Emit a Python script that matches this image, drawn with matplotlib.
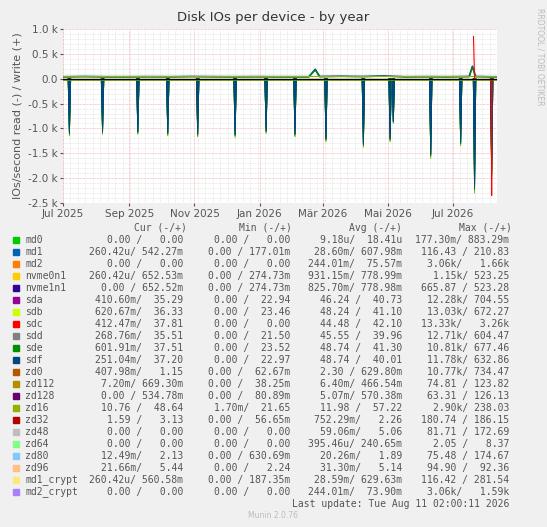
import matplotlib
matplotlib.use("Agg")
import matplotlib.pyplot as plt
import numpy as np

W, H = 547, 527
# x in days since 2025-07-01
month_ticks = [0, 62, 123, 184, 243, 304, 365]
month_labels = ["Jul 2025", "Sep 2025", "Nov 2025", "Jan 2026", "Mär 2026", "Mai 2026", "Jul 2026"]

# read spikes of sd* disks (days, value)
spike_days = [6, 37, 70, 98, 126, 161, 190, 217, 246, 281, 306, 309, 344, 372, 385, 401]
spike_vals = [-1150, -1120, -1120, -1150, -1170, -1180, -1100, -1170, -1270, -1380, -1270, -900, -1600, -1350, -2300, -2000]
sdc_spike_day = [401]
sdc_spike_val = [-2350]
write_days = [0, 1, 20, 40, 60, 80, 100, 120, 140, 160, 180, 200, 230, 236, 240, 260, 280, 300, 320, 340, 360, 380, 383, 386, 400, 406]
write_vals = [40, 40, 45, 40, 40, 42, 40, 45, 42, 40, 42, 40, 40, 190, 45, 50, 45, 55, 40, 42, 40, 45, 250, 45, 40, 40]
sdc_write_day = [384, 385]
sdc_write_val = [850, 0]

names = ["md0","md1","md2","nvme0n1","nvme1n1","sda","sdb","sdc","sdd","sde","sdf","zd0","zd112","zd128","zd16","zd32","zd48","zd64","zd80","zd96","md1_crypt","md2_crypt"]
colors = ["#00cc00","#0066b3","#ff8000","#ffcc00","#330099","#990099","#ccff00","#ff0000","#808080","#008f00","#00487d","#b35a00","#b38f00","#6b006b","#8fb300","#b30000","#bebebe","#80ff80","#80c9ff","#ffc080","#ffe680","#aa80ff"]
cur = ["0.00 /   0.00","260.42u/ 542.27m","0.00 /   0.00","260.42u/ 652.53m","0.00 / 652.52m","410.60m/  35.29","620.67m/  36.33","412.47m/  37.81","268.76m/  35.51","601.91m/  37.51","251.04m/  37.20","407.98m/   1.15","7.20m/ 669.30m","0.00 / 534.78m","10.76 /  48.64","1.59 /   3.13","0.00 /   0.00","0.00 /   0.00","12.49m/   2.13","21.66m/   5.44","260.42u/ 560.58m","0.00 /   0.00"]
mn = ["0.00 /   0.00","0.00 / 177.01m","0.00 /   0.00","0.00 / 274.73m","0.00 / 274.73m","0.00 /  22.94","0.00 /  23.46","0.00 /   0.00","0.00 /  21.50","0.00 /  23.52","0.00 /  22.97","0.00 /  62.67m","0.00 /  38.25m","0.00 /  80.89m","1.70m/  21.65","0.00 /  56.65m","0.00 /   0.00","0.00 /   0.00","0.00 / 630.69m","0.00 /   2.24","0.00 / 187.35m","0.00 /   0.00"]
avg = ["9.18u/  18.41u","28.60m/ 607.98m","244.01m/  75.57m","931.15m/ 778.99m","825.70m/ 778.98m","46.24 /  40.73","48.24 /  41.10","44.48 /  42.10","45.55 /  39.96","48.74 /  41.30","48.74 /  40.01","2.30 / 629.80m","6.40m/ 466.54m","5.07m/ 570.38m","11.98 /  57.22","752.29m/   2.26","59.06m/   5.06","395.46u/ 240.65m","20.26m/   1.89","31.30m/   5.14","28.59m/ 629.63m","244.01m/  73.90m"]
mx = ["177.30m/ 883.29m","116.43 / 210.83","3.06k/   1.66k","1.15k/ 523.25","665.87 / 523.28","12.28k/ 704.55","13.03k/ 672.27","13.33k/   3.26k","12.71k/ 604.47","10.81k/ 677.46","11.78k/ 632.86","10.77k/ 734.47","74.81 / 123.82","63.31 / 126.13","2.90k/ 238.03","180.74 / 186.15","81.71 / 172.69","2.05 /   8.37","75.48 / 174.67","94.90 /  92.36","116.42 / 281.54","3.06k/   1.59k"]

fig = plt.figure(figsize=(W/100, H/100), dpi=100, facecolor="#f0f0f0")
ax = fig.add_axes([63/W, 1-203/H, 434/W, 174/H])
ax.set_facecolor("white")
ax.set_xlim(0, 406)
ax.set_ylim(-2500, 1000)

# grids
for y in np.arange(-2500, 1001, 100):
    ax.axhline(y, color="#dddddd" if y % 500 else "#f2a0a0", lw=0.5, ls=(0, (1, 1)), zorder=0)
for x in np.arange(0, 406, 7):
    ax.axvline(x, color="#dddddd", lw=0.5, ls=(0, (1, 1)), zorder=0)
for x in month_ticks:
    ax.axvline(x, color="#f2a0a0", lw=0.5, ls=(0, (1, 1)), zorder=0)

# data
def spike(d, v, w=1.2):
    return [d - w, d, d + w], [0, v, 0]

for i, (d, v) in enumerate(zip(spike_days, spike_vals)):
    for c, f in [("#8fb300", 1.0), ("#008f00", 0.97), ("#00487d", 0.95)]:
        xs, ys = spike(d, v * f)
        ax.fill(xs, ys, color=c, lw=0.6, zorder=2)
        ax.plot(xs, ys, color=c, lw=0.6, zorder=2)
for d, v in zip(sdc_spike_day, sdc_spike_val):
    ax.plot([d - 0.3, d, d + 0.3], [0, v, 0], color="#ff0000", lw=0.8, zorder=3)
ax.plot(write_days, write_vals, color="#00487d", lw=1.2, zorder=2)
ax.plot(write_days, [v * 0.9 for v in write_vals], color="#008f00", lw=0.8, zorder=2)
ax.plot([0, 406], [-20, -20], color="#8fb300", lw=1.2, zorder=2)
ax.plot([0, 406], [60, 60], color="#8fb300", lw=0.8, zorder=2)
ax.plot(sdc_write_day, sdc_write_val, color="#ff0000", lw=0.8, zorder=3)
ax.axhline(0, color="black", lw=1, zorder=4)

ax.set_xticks(month_ticks)
ax.set_xticklabels(month_labels)
ax.set_yticks([1000, 500, 0, -500, -1000, -1500, -2000, -2500])
ax.set_yticklabels(["1.0 k", "0.5 k", "0.0", "-0.5 k", "-1.0 k", "-1.5 k", "-2.0 k", "-2.5 k"])
ax.tick_params(labelsize=7.5, colors="#555555", length=2, pad=2)
for s in ax.spines.values():
    s.set_visible(False)
ax.set_ylabel("IOs/second read (-) / write (+)", fontsize=8, color="#555555")
fig.text(0.5, 1 - 17/H, "Disk IOs per device - by year", ha="center", va="center", fontsize=9.5, color="#333333")
fig.text(540/W, 1 - 8/H, "RRDTOOL / TOBI OETIKER", rotation=270, ha="center", va="top", fontsize=5.5, color="#bbbbbb")

mono = dict(family="DejaVu Sans Mono", fontsize=7, color="#555555", va="center")
hy = 1 - 228/H
for x, t in [(160, "Cur (-/+)"), (265, "Min (-/+)"), (375, "Avg (-/+)"), (485, "Max (-/+)")]:
    fig.text(x/W, hy, t, ha="center", **mono)
for i, n in enumerate(names):
    y = 240 + i * 12.0
    fy = 1 - y/H
    fig.patches.append(plt.Rectangle((13/W, 1 - (y + 3)/H), 6/W, 6/H, transform=fig.transFigure, color=colors[i]))
    fig.text(25/W, fy, n, ha="left", **mono)
    for x, arr in [(183, cur), (290, mn), (402, avg), (509, mx)]:
        fig.text(x/W, fy, arr[i], ha="right", **mono)
fig.text(509/W, 1 - 504/H, "Last update: Tue Aug 11 02:00:11 2026", ha="right", **mono)
fig.text(273/W, 1 - 516/H, "Munin 2.0.76", ha="center", va="center", fontsize=5.5, color="#bbbbbb")

fig.savefig("out.png", dpi=100, facecolor=fig.get_facecolor())
